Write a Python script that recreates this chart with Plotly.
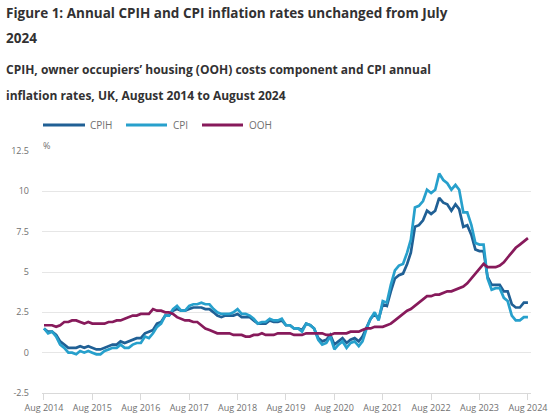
import plotly.graph_objects as go
import pandas as pd

months = pd.date_range("2014-08-01", "2024-08-01", freq="MS")

cpih = [1.5, 1.3, 1.3, 1.1, 0.7,
        0.5, 0.3, 0.3, 0.3, 0.4, 0.3, 0.4, 0.3, 0.2, 0.2, 0.3, 0.4,
        0.5, 0.5, 0.7, 0.6, 0.7, 0.8, 0.9, 0.9, 1.2, 1.3, 1.4, 1.8,
        1.9, 2.3, 2.3, 2.6, 2.7, 2.6, 2.6, 2.7, 2.8, 2.8, 2.8, 2.7,
        2.7, 2.5, 2.3, 2.2, 2.3, 2.3, 2.3, 2.4, 2.2, 2.2, 2.2, 2.0,
        1.8, 1.8, 1.8, 2.0, 1.9, 1.9, 2.0, 1.7, 1.7, 1.5, 1.5, 1.4,
        1.8, 1.7, 1.5, 0.9, 0.7, 0.8, 1.1, 0.5, 0.7, 0.9, 0.6, 0.8,
        0.9, 0.7, 1.0, 1.6, 2.1, 2.4, 2.1, 3.0, 2.9, 3.8, 4.6, 4.8,
        4.9, 5.5, 6.2, 7.8, 7.9, 8.2, 8.8, 8.6, 8.8, 9.6, 9.3, 9.2,
        8.8, 9.2, 8.9, 7.8, 7.9, 7.3, 6.4, 6.3, 6.3, 4.7, 4.2, 4.2,
        4.2, 3.8, 3.8, 3.0, 2.8, 2.8, 3.1, 3.1]

cpi = [1.5, 1.2, 1.3, 1.0, 0.5,
       0.3, 0.0, 0.0, -0.1, 0.1, 0.0, 0.1, 0.0, -0.1, -0.1, 0.1, 0.2,
       0.3, 0.3, 0.5, 0.3, 0.3, 0.5, 0.6, 0.6, 1.0, 0.9, 1.2, 1.6,
       1.8, 2.3, 2.3, 2.7, 2.9, 2.6, 2.6, 2.9, 3.0, 3.0, 3.1, 3.0,
       3.0, 2.7, 2.5, 2.4, 2.4, 2.4, 2.5, 2.7, 2.4, 2.4, 2.3, 2.1,
       1.8, 1.9, 1.9, 2.1, 2.0, 2.0, 2.1, 1.7, 1.7, 1.5, 1.5, 1.3,
       1.8, 1.7, 1.5, 0.8, 0.5, 0.6, 1.0, 0.2, 0.5, 0.7, 0.3, 0.6,
       0.7, 0.4, 0.7, 1.5, 2.1, 2.5, 2.0, 3.2, 3.1, 4.2, 5.1, 5.4,
       5.5, 6.2, 7.0, 9.0, 9.1, 9.4, 10.1, 9.9, 10.1, 11.1, 10.7, 10.5,
       10.1, 10.4, 10.1, 8.7, 8.7, 7.9, 6.8, 6.7, 6.7, 4.6, 3.9, 4.0,
       4.0, 3.4, 3.2, 2.3, 2.0, 2.0, 2.2, 2.2]

ooh = [1.7, 1.7, 1.7, 1.6, 1.7,
       1.9, 1.9, 2.0, 2.0, 1.9, 1.8, 1.9, 1.8, 1.8, 1.8, 1.8, 1.9,
       1.9, 2.0, 2.0, 2.1, 2.2, 2.3, 2.3, 2.4, 2.4, 2.4, 2.7, 2.6,
       2.6, 2.5, 2.5, 2.4, 2.2, 2.1, 2.0, 2.0, 1.9, 1.9, 1.7, 1.5,
       1.4, 1.3, 1.2, 1.2, 1.2, 1.2, 1.1, 1.1, 1.1, 1.0, 1.0, 1.1,
       1.1, 1.2, 1.1, 1.1, 1.1, 1.2, 1.2, 1.2, 1.2, 1.1, 1.1, 1.1,
       1.2, 1.2, 1.2, 1.2, 1.2, 1.1, 1.1, 1.2, 1.2, 1.2, 1.2, 1.3,
       1.3, 1.3, 1.4, 1.5, 1.5, 1.6, 1.6, 1.6, 1.7, 1.8, 2.0, 2.2,
       2.4, 2.6, 2.7, 2.9, 3.1, 3.3, 3.5, 3.5, 3.6, 3.6, 3.7, 3.8,
       3.8, 3.9, 4.0, 4.1, 4.3, 4.6, 4.9, 5.2, 5.5, 5.3, 5.3, 5.3,
       5.4, 5.6, 5.9, 6.2, 6.5, 6.7, 6.9, 7.1]

series_names = ["CPIH", "CPI", "OOH"]
series_colors = ["#206095", "#27a0cc", "#871a5b"]
tick_dates = pd.date_range("2014-08-01", "2024-08-01", freq="12MS")
tick_labels = [d.strftime("Aug %Y") for d in tick_dates]
y_ticks = [-2.5, 0, 2.5, 5, 7.5, 10, 12.5]
y_tick_labels = ["-2.5", "0", "2.5", "5", "7.5", "10", "12.5"]

title_lines = ["Figure 1: Annual CPIH and CPI inflation rates unchanged from July", "2024"]
subtitle_lines = ["CPIH, owner occupiers’ housing (OOH) costs component and CPI annual",
                  "inflation rates, UK, August 2014 to August 2024"]

FONT = "Open Sans"
W, H = 550, 414
L, R, T, B = 42, 19, 151, 21
PW, PH = W - L - R, H - T - B


def px(x):
    return (x - L) / PW


def py(y):
    return (H - B - y) / PH


fig = go.Figure()
for name, vals, col in zip(series_names, [cpih, cpi, ooh], series_colors):
    fig.add_trace(go.Scatter(x=months, y=vals, name=name, mode="lines",
                             line=dict(color=col, width=2.7), showlegend=False))

fig.update_layout(
    width=W, height=H,
    margin=dict(l=L, r=R, t=T, b=B, autoexpand=False),
    paper_bgcolor="white", plot_bgcolor="white",
    font=dict(family=FONT, color="#707070", size=9),
    showlegend=False,
    xaxis=dict(type="date", range=["2014-07-17", "2024-08-24"],
               tickvals=tick_dates, ticktext=tick_labels, automargin=False,
               showgrid=False, showline=True, linecolor="#d9d9d9", linewidth=1,
               ticks="outside", ticklen=6, tickcolor="#d9d9d9",
               tickfont=dict(size=9, color="#707070"), zeroline=False),
    yaxis=dict(range=[-2.5, 12.5], tickvals=y_ticks, ticktext=y_tick_labels,
               automargin=False,
               showgrid=True, gridcolor="#e6e6e6", gridwidth=1, zeroline=False,
               ticks="", ticklabelstandoff=12,
               tickfont=dict(size=9, color="#707070")),
)

for i, t in enumerate(title_lines):
    fig.add_annotation(text="<b>" + t + "</b>", xref="paper", yref="paper",
                       x=px(4), y=py([13, 38][i]),
                       xanchor="left", yanchor="middle", showarrow=False,
                       font=dict(family=FONT, size=13.5, color="#323132"))
for i, t in enumerate(subtitle_lines):
    fig.add_annotation(text="<b>" + t + "</b>", xref="paper", yref="paper",
                       x=px(4), y=py([70, 95][i]),
                       xanchor="left", yanchor="middle", showarrow=False,
                       font=dict(family=FONT, size=12, color="#323132"))
fig.add_annotation(text="%", xref="paper", yref="paper", x=px(41), y=py(145),
                   xanchor="left", yanchor="middle", showarrow=False,
                   font=dict(family=FONT, size=9, color="#707070"))

# legend drawn as swatches + labels
legend_x = [(43, 85, 88), (126, 167, 171), (202, 243, 247)]
for (x0, x1, xt), name, col in zip(legend_x, series_names, series_colors):
    fig.add_shape(type="line", xref="paper", yref="paper",
                  x0=px(x0), x1=px(x1), y0=py(125), y1=py(125),
                  line=dict(color=col, width=3))
    fig.add_annotation(text=name, xref="paper", yref="paper", x=px(xt), y=py(125),
                       xanchor="left", yanchor="middle", showarrow=False,
                       font=dict(family=FONT, size=10, color="#707070"))

fig.write_html("out.html", config={"displayModeBar": False},
               post_script="document.body.style.margin='0';document.body.style.overflow='hidden';")
